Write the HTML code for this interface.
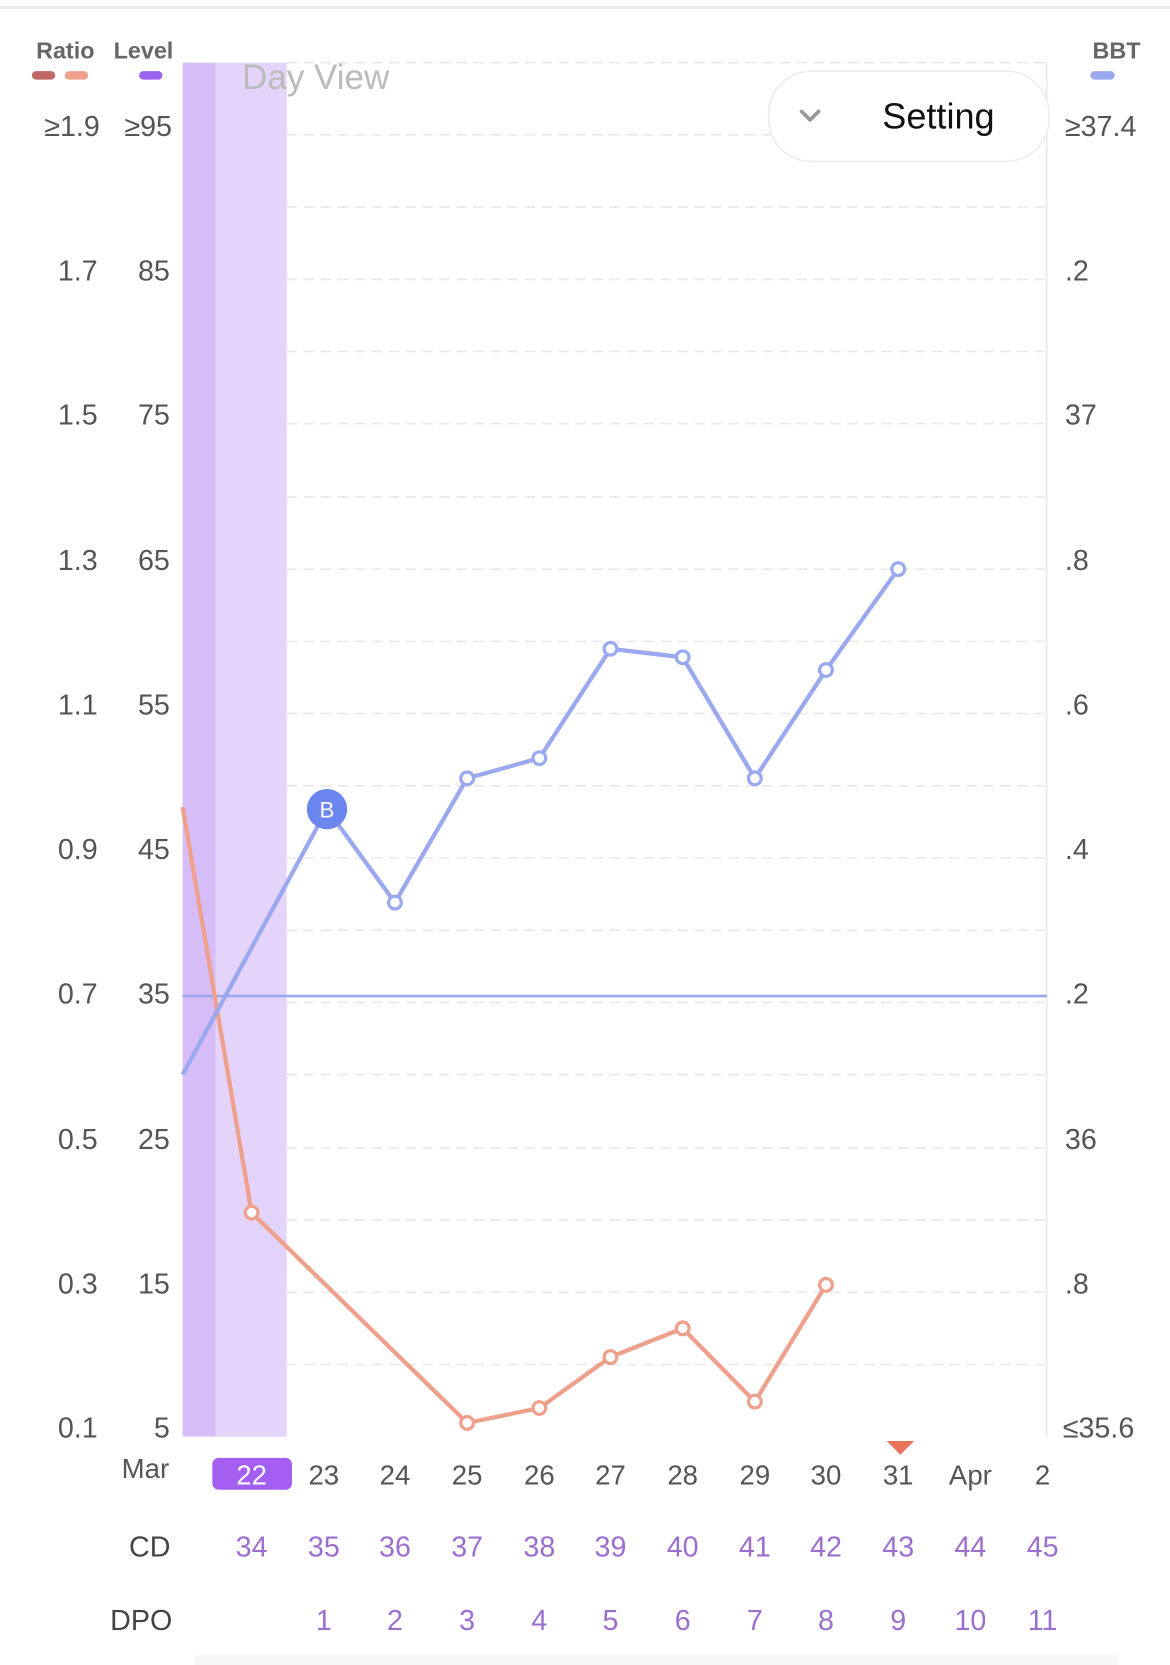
<!DOCTYPE html>
<html><head><meta charset="utf-8"><style>
html,body{margin:0;padding:0;background:#fff;}
svg{display:block;}
text{font-family:"Liberation Sans",sans-serif;}
</style></head><body>
<svg width="1170" height="1665" viewBox="0 0 1102 1568" preserveAspectRatio="none">
<rect x="0" y="0" width="1102" height="1568" fill="#fff"/>
<line x1="0" y1="7" x2="1102" y2="7" stroke="#ececec" stroke-width="3"/>
<rect x="172" y="59" width="31" height="1294" fill="#d6bdf7"/>
<rect x="203" y="59" width="67" height="1294" fill="#e4d3fa"/>
<g stroke="#e8e8e8" stroke-width="1.5" stroke-dasharray="10,6">
<line x1="270" x2="986" y1="59" y2="59"/>
<line x1="270" x2="986" y1="127" y2="127"/>
<line x1="270" x2="986" y1="195" y2="195"/>
<line x1="270" x2="986" y1="263" y2="263"/>
<line x1="270" x2="986" y1="331" y2="331"/>
<line x1="270" x2="986" y1="399" y2="399"/>
<line x1="270" x2="986" y1="468" y2="468"/>
<line x1="270" x2="986" y1="536" y2="536"/>
<line x1="270" x2="986" y1="604" y2="604"/>
<line x1="270" x2="986" y1="672" y2="672"/>
<line x1="270" x2="986" y1="740" y2="740"/>
<line x1="270" x2="986" y1="808" y2="808"/>
<line x1="270" x2="986" y1="876" y2="876"/>
<line x1="270" x2="986" y1="944" y2="944"/>
<line x1="270" x2="986" y1="1012" y2="1012"/>
<line x1="270" x2="986" y1="1081" y2="1081"/>
<line x1="270" x2="986" y1="1149" y2="1149"/>
<line x1="270" x2="986" y1="1217" y2="1217"/>
<line x1="270" x2="986" y1="1285" y2="1285"/>
</g>
<line x1="986" y1="59" x2="986" y2="1353" stroke="#ececec" stroke-width="1.5"/>
<line x1="172" y1="938" x2="986" y2="938" stroke="#9aa8f0" stroke-width="2.5"/>
<g font-size="22" font-weight="bold" fill="#666">
<text x="34" y="55">Ratio</text><text x="107" y="55">Level</text><text x="1029" y="55">BBT</text>
</g>
<rect x="30" y="67" width="22" height="8" rx="4" fill="#c06868"/>
<rect x="61" y="67" width="22" height="8" rx="4" fill="#eea08c"/>
<rect x="131" y="67" width="22" height="8" rx="4" fill="#9b63f0"/>
<rect x="1027" y="67" width="23" height="8" rx="4" fill="#9aa8f0"/>
<text x="228" y="84" font-size="33" fill="#bbb">Day View</text>
<rect x="724" y="67" width="264" height="85" rx="40" fill="#fff" stroke="#ececec" stroke-width="1.5"/>
<polyline points="755,105 763,113 771,105" fill="none" stroke="#999" stroke-width="3.5" stroke-linecap="round" stroke-linejoin="round"/>
<text x="831" y="121" font-size="34" fill="#111">Setting</text>
<g font-size="27" fill="#555" text-anchor="end">
<text x="94" y="128">≥1.9</text><text x="162" y="128">≥95</text>
<text x="92" y="264">1.7</text><text x="160" y="264">85</text>
<text x="92" y="400">1.5</text><text x="160" y="400">75</text>
<text x="92" y="537">1.3</text><text x="160" y="537">65</text>
<text x="92" y="673">1.1</text><text x="160" y="673">55</text>
<text x="92" y="809">0.9</text><text x="160" y="809">45</text>
<text x="92" y="945">0.7</text><text x="160" y="945">35</text>
<text x="92" y="1082">0.5</text><text x="160" y="1082">25</text>
<text x="92" y="1218">0.3</text><text x="160" y="1218">15</text>
<text x="92" y="1354">0.1</text><text x="160" y="1354">5</text>
</g>
<g font-size="27" fill="#555">
<text x="1003" y="128">≥37.4</text>
<text x="1003" y="264">.2</text>
<text x="1003" y="400">37</text>
<text x="1003" y="537">.8</text>
<text x="1003" y="673">.6</text>
<text x="1003" y="809">.4</text>
<text x="1003" y="945">.2</text>
<text x="1003" y="1082">36</text>
<text x="1003" y="1218">.8</text>
<text x="1001" y="1354">≤35.6</text>
</g>
<polyline points="172,760 237,1142 440,1340 508,1326 575,1278 643,1251 711,1320 778,1210" fill="none" stroke="#eea08c" stroke-width="4" stroke-linejoin="round"/>
<g fill="#fff" stroke="#eea08c" stroke-width="3">
<circle cx="237" cy="1142" r="6"/><circle cx="440" cy="1340" r="6"/><circle cx="508" cy="1326" r="6"/><circle cx="575" cy="1278" r="6"/><circle cx="643" cy="1251" r="6"/><circle cx="711" cy="1320" r="6"/><circle cx="778" cy="1210" r="6"/>
</g>
<polyline points="172,1012 308,762 372,850 440,733 508,714 575,611 643,619 711,733 778,631 846,536" fill="none" stroke="#9aa8f0" stroke-width="4" stroke-linejoin="round"/>
<g fill="#fff" stroke="#9aa8f0" stroke-width="3">
<circle cx="372" cy="850" r="6"/><circle cx="440" cy="733" r="6"/><circle cx="508" cy="714" r="6"/><circle cx="575" cy="611" r="6"/><circle cx="643" cy="619" r="6"/><circle cx="711" cy="733" r="6"/><circle cx="778" cy="631" r="6"/><circle cx="846" cy="536" r="6"/>
</g>
<circle cx="308" cy="762" r="19" fill="#6b86ee"/>
<text x="308" y="770" font-size="21" fill="#fff" text-anchor="middle">B</text>
<polygon points="835,1357 861,1357 848,1370" fill="#e8735a"/>
<rect x="200" y="1373" width="75" height="30" rx="6" fill="#a45ef2"/>
<g font-size="26" fill="#555" text-anchor="middle">
<text x="137" y="1392">Mar</text>
<text x="237" y="1398" fill="#fff">22</text>
<text x="305" y="1398">23</text><text x="372" y="1398">24</text><text x="440" y="1398">25</text><text x="508" y="1398">26</text><text x="575" y="1398">27</text><text x="643" y="1398">28</text><text x="711" y="1398">29</text><text x="778" y="1398">30</text><text x="846" y="1398">31</text><text x="914" y="1398">Apr</text><text x="982" y="1398">2</text>
</g>
<g font-size="27" text-anchor="middle" fill="#9a6fcf">
<text x="141" y="1466" fill="#444">CD</text>
<text x="237" y="1466">34</text><text x="305" y="1466">35</text><text x="372" y="1466">36</text><text x="440" y="1466">37</text><text x="508" y="1466">38</text><text x="575" y="1466">39</text><text x="643" y="1466">40</text><text x="711" y="1466">41</text><text x="778" y="1466">42</text><text x="846" y="1466">43</text><text x="914" y="1466">44</text><text x="982" y="1466">45</text>
<text x="133" y="1535" fill="#444">DPO</text>
<text x="305" y="1535">1</text><text x="372" y="1535">2</text><text x="440" y="1535">3</text><text x="508" y="1535">4</text><text x="575" y="1535">5</text><text x="643" y="1535">6</text><text x="711" y="1535">7</text><text x="778" y="1535">8</text><text x="846" y="1535">9</text><text x="914" y="1535">10</text><text x="982" y="1535">11</text>
</g>
<rect x="183" y="1558" width="870" height="10" fill="#f7f7f7"/>
</svg>
</body></html>
